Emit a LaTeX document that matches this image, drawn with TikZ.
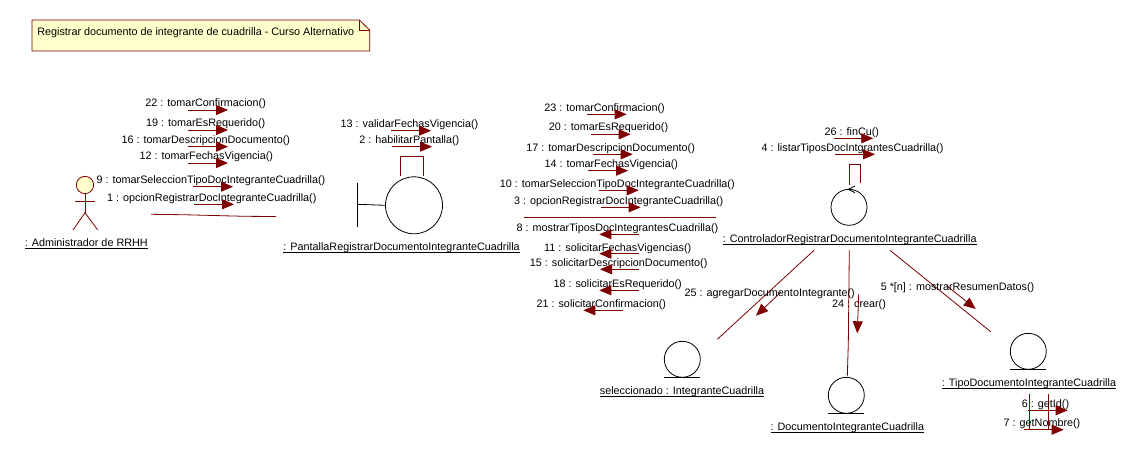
\documentclass[tikz,border=0pt]{standalone}
\usepackage{fontspec}
\setmainfont{Liberation Sans}
\usetikzlibrary{arrows.meta}
\definecolor{rosered}{HTML}{7F0000}
\definecolor{notefill}{HTML}{FFFFCC}
\tikzset{
  msgtext/.style={inner sep=0pt,yshift=-1.1pt,font=\fontsize{8.1pt}{10pt}\selectfont,text=black},
  objtext/.style={msgtext},
  rline/.style={draw=rosered,line width=0.6pt},
  msgarrow/.style={rline,-{Triangle[length=9pt,width=7.5pt,fill=rosered]}},
  objcircle/.style={circle,draw=black,line width=0.6pt,fill=white,inner sep=0pt,minimum size=27pt},
  bline/.style={draw=black,line width=0.6pt},
}
\newcommand{\ulabel}[1]{\setbox0=\hbox{\strut #1}\rlap{\rule[-1.5pt]{\wd0}{0.6pt}}\box0}
% name, x1, x2, y (arrow), text x, text y, text
\newcommand{\msgat}[7]{%
  \node[msgtext,anchor=center] (#1t) at (#5,#6) {\strut #7};
  \coordinate (#1s) at (#2,#4);
  \coordinate (#1e) at (#3,#4);
  \draw[msgarrow] (#1s) -- (#1e);
}
\begin{document}
\begin{tikzpicture}[x=0.75pt,y=-0.75pt]
\useasboundingbox[fill=white] (0,0) rectangle (1142,458);

% note
\coordinate (n1) at (32,20);
\coordinate (n2) at (359.3,20);
\coordinate (n3) at (369.7,30);
\coordinate (n4) at (369.7,51);
\coordinate (n5) at (32,51);
\coordinate (n6) at (359.3,30);
\draw[rline,fill=notefill] (n1) -- (n2) -- (n3) -- (n4) -- (n5) -- cycle;
\draw[rline] (n2) -- (n6) -- (n3);
\node[msgtext] (notetext) at (195.8,31.3) {\strut Registrar documento de integrante de cuadrilla - Curso Alternativo};

% actor
\node[circle,draw=rosered,line width=0.6pt,fill=notefill,inner sep=0pt,minimum size=13pt] (actorhead) at (85,185) {};
\coordinate (hip) at (85,212.7);
\coordinate (armL) at (75,201.3);
\coordinate (armR) at (95,201.3);
\coordinate (footL) at (73,230);
\coordinate (footR) at (97.7,230);
\draw[rline] (actorhead.south) -- (hip);
\draw[rline] (armL) -- (armR);
\draw[rline] (footL) -- (hip) -- (footR);
\node[objtext] (actorlabel) at (86.3,242.7) {\ulabel{: Administrador de RRHH}};

% link actor - boundary
\coordinate (la) at (151,214.3);
\coordinate (lb) at (182.7,214.7);
\coordinate (lc) at (245,216.3);
\coordinate (ld) at (276,216.5);
\draw[rline] (la) -- (lb) -- (lc) -- (ld);

\msgat{m22}{188}{228}{110}{205.7}{102}{22 : tomarConfirmacion()}
\msgat{m19}{188}{228}{130}{205.7}{122}{19 : tomarEsRequerido()}
\msgat{m16}{188}{228}{146.7}{205.8}{139}{16 : tomarDescripcionDocumento()}
\msgat{m12}{188}{228}{163}{206.3}{155.7}{12 : tomarFechasVigencia()}
\msgat{m9}{193}{233}{186.7}{211}{179}{9 : tomarSeleccionTipoDocIntegranteCuadrilla()}
\msgat{m1}{194}{234}{204.3}{211.8}{197}{1 : opcionRegistrarDocIntegranteCuadrilla()}

% boundary
\node[objcircle,minimum size=42.75pt] (pantalla) at (414,205.3) {};
\coordinate (bt) at (357.3,183.3);
\coordinate (bb) at (357.3,226.7);
\coordinate (bm) at (357.3,204.3);
\draw[bline] (bt) -- (bb);
\draw[bline] (bm) -- (pantalla.west);
\coordinate (pl1) at (400.3,176);
\coordinate (pl2) at (400.3,156.3);
\coordinate (pl3) at (423.3,156.3);
\coordinate (pl4) at (423.3,176);
\draw[rline] (pl1) -- (pl2) -- (pl3) -- (pl4);
\node[objtext] (pantallalabel) at (401.6,246.7) {\ulabel{: PantallaRegistrarDocumentoIntegranteCuadrilla}};
\msgat{m13}{391}{431}{130.7}{409.5}{123.3}{13 : validarFechasVigencia()}
\msgat{m2}{392}{432}{146.7}{409.3}{139.3}{2 : habilitarPantalla()}

% link boundary - controller
\msgat{m23}{587}{626.7}{114.3}{604.5}{107.3}{23 : tomarConfirmacion()}
\msgat{m20}{591}{630.7}{134.3}{608.5}{126.7}{20 : tomarEsRequerido()}
\msgat{m17}{592.7}{632.7}{154.3}{610.7}{147.3}{17 : tomarDescripcionDocumento()}
\msgat{m14}{588}{628}{170.7}{611.3}{163.3}{14 : tomarFechasVigencia()}
\msgat{m10}{599}{638.7}{190.3}{617.3}{183.3}{10 : tomarSeleccionTipoDocIntegranteCuadrilla()}
\msgat{m3}{601}{640.7}{207.3}{618.7}{200.3}{3 : opcionRegistrarDocIntegranteCuadrilla()}
\coordinate (lpa) at (524,217);
\coordinate (lpb) at (716,217);
\draw[rline] (lpa) -- (lpb);
\msgat{m8}{639}{599.3}{234.3}{617.5}{227.3}{8 : mostrarTiposDocIntegrantesCuadrilla()}
\msgat{m11}{639}{599.3}{253.7}{617.7}{247.3}{11 : solicitarFechasVigencias()}
\msgat{m15}{639.3}{600}{269.3}{618.7}{262.3}{15 : solicitarDescripcionDocumento()}
\msgat{m18}{639}{599.3}{290.3}{617.7}{283.3}{18 : solicitarEsRequerido()}
\msgat{m21}{622.7}{583.3}{310.3}{601.3}{303.3}{21 : solicitarConfirmacion()}

% controller
\node[objcircle,minimum size=27pt] (ctrl) at (849,207.3) {};
\coordinate (ca) at (855,186);
\coordinate (cb) at (848.3,189.3);
\coordinate (cc) at (855,192.7);
\draw[bline] (ca) -- (cb) -- (cc);
\coordinate (cl1) at (849.3,185);
\coordinate (cl2) at (849.3,164.3);
\coordinate (cl3) at (860.7,164.3);
\coordinate (cl4) at (860.7,183.3);
\draw[rline] (cl1) -- (cl2) -- (cl3) -- (cl4);
\node[objtext] (ctrllabel) at (849.7,238.3) {\ulabel{: ControladorRegistrarDocumentoIntegranteCuadrilla}};
\msgat{m26}{834}{873.3}{138.3}{851.8}{131}{26 : finCu()}
\msgat{m4}{835.3}{875}{154.3}{852.5}{147}{4 : listarTiposDocIntgrantesCuadrilla()}

% associations
\coordinate (a1s) at (814,250.3);
\coordinate (a1e) at (717.3,339.3);
\draw[rline] (a1s) -- (a1e);
\coordinate (a2s) at (849.3,250.3);
\coordinate (a2m) at (848.3,344);
\coordinate (a2e) at (847.3,376);
\draw[rline] (a2s) -- (a2m) -- (a2e);
\coordinate (a3s) at (890,250.3);
\coordinate (a3e) at (990.7,331.7);
\draw[rline] (a3s) -- (a3e);

% diagonal messages
\coordinate (m25s) at (780.7,292.3);
\coordinate (m25e) at (756,315.7);
\draw[msgarrow] (m25s) -- (m25e);
\node[msgtext] (m25t) at (769.7,292) {\strut 25 : agregarDocumentoIntegrante()};
\coordinate (m24s) at (858.7,294);
\coordinate (m24e) at (857.3,333.3);
\draw[msgarrow] (m24s) -- (m24e);
\node[msgtext] (m24t) at (859,303) {\strut 24 : crear()};
\coordinate (m5s) at (946.7,285.7);
\coordinate (m5e) at (975.7,309);
\draw[msgarrow] (m5s) -- (m5e);
\node[msgtext] (m5t) at (957.5,286) {\strut 5 *[n] : mostrarResumenDatos()};

% entities
\node[objcircle] (integrante) at (682.3,359.3) {};
\coordinate (i1) at (664,377.3);
\coordinate (i2) at (700,377.3);
\draw[bline] (i1) -- (i2);
\node[objtext] (integrantelabel) at (682,390.3) {\ulabel{seleccionado : IntegranteCuadrilla}};

\node[objcircle] (documento) at (846.3,395.3) {};
\coordinate (d1) at (828.3,413.3);
\coordinate (d2) at (863.7,413.3);
\draw[bline] (d1) -- (d2);
\node[objtext] (documentolabel) at (847.3,426.3) {\ulabel{: DocumentoIntegranteCuadrilla}};

\node[objcircle] (tipo) at (1028.3,351.3) {};
\coordinate (t1) at (1010,369.3);
\coordinate (t2) at (1046,369.3);
\draw[bline] (t1) -- (t2);
\node[objtext] (tipolabel) at (1029,382.3) {\ulabel{: TipoDocumentoIntegranteCuadrilla}};

% self loop on tipo
\coordinate (tl1) at (1029.3,394);
\coordinate (tl2) at (1029.3,429);
\coordinate (tl3) at (1048.5,394);
\coordinate (tl4) at (1048.5,429);
\draw[rline] (tl1) -- (tl2);
\draw[rline] (tl3) -- (tl4);
\msgat{m6}{1028.3}{1067.7}{410.3}{1045.5}{403.3}{6 : getId()}
\msgat{m7}{1024}{1063.7}{429.7}{1042}{422.3}{7 : getNombre()}
\end{tikzpicture}
\end{document}
